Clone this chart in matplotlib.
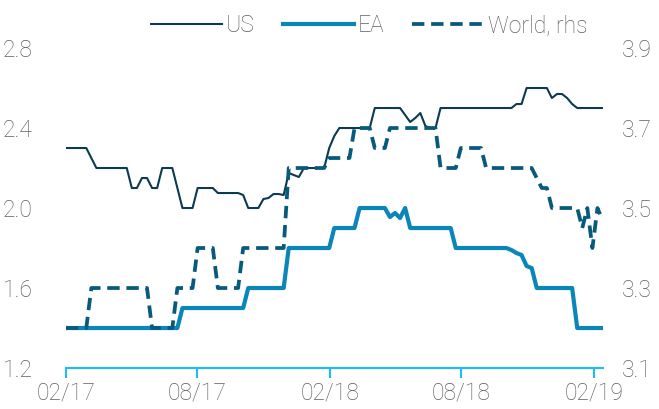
import pandas as pd
import matplotlib.pyplot as plt
import matplotlib.dates as mdates

# weekly observations, Feb 2017 - Feb 2019
dates = pd.date_range("2017-02-01", periods=107, freq="7D")

us = [2.30, 2.30, 2.30, 2.30, 2.30, 2.25, 2.20, 2.20, 2.20, 2.20,
      2.20, 2.20, 2.20, 2.10, 2.10, 2.15, 2.15, 2.10, 2.10, 2.20,
      2.20, 2.20, 2.10, 2.00, 2.00, 2.00, 2.10, 2.10, 2.10, 2.10,
      2.075, 2.075, 2.075, 2.075, 2.075, 2.065, 2.00, 2.00, 2.00, 2.045,
      2.05, 2.07, 2.07, 2.065, 2.175, 2.165, 2.155, 2.20, 2.20, 2.20,
      2.20, 2.20, 2.30, 2.36, 2.40, 2.40, 2.40, 2.40, 2.40, 2.40,
      2.40, 2.50, 2.50, 2.50, 2.50, 2.50, 2.50, 2.465, 2.43, 2.45,
      2.475, 2.41, 2.40, 2.40, 2.50, 2.50, 2.50, 2.50, 2.50, 2.50,
      2.50, 2.50, 2.50, 2.50, 2.50, 2.50, 2.50, 2.50, 2.50, 2.52,
      2.52, 2.60, 2.60, 2.60, 2.60, 2.60, 2.55, 2.57, 2.57, 2.55,
      2.52, 2.50, 2.50, 2.50, 2.50, 2.50, 2.50]

ea = [1.4, 1.4, 1.4, 1.4, 1.4, 1.4, 1.4, 1.4, 1.4, 1.4,
      1.4, 1.4, 1.4, 1.4, 1.4, 1.4, 1.4, 1.4, 1.4, 1.4,
      1.4, 1.4, 1.4, 1.5, 1.5, 1.5, 1.5, 1.5, 1.5, 1.5,
      1.5, 1.5, 1.5, 1.5, 1.5, 1.5, 1.6, 1.6, 1.6, 1.6,
      1.6, 1.6, 1.6, 1.6, 1.8, 1.8, 1.8, 1.8, 1.8, 1.8,
      1.8, 1.8, 1.8, 1.9, 1.9, 1.9, 1.9, 1.9, 2.0, 2.0,
      2.0, 2.0, 2.0, 2.0, 1.955, 1.975, 1.95, 2.0, 1.9, 1.9,
      1.9, 1.9, 1.9, 1.9, 1.9, 1.9, 1.9, 1.8, 1.8, 1.8,
      1.8, 1.8, 1.8, 1.8, 1.8, 1.8, 1.8, 1.8, 1.79, 1.775,
      1.765, 1.71, 1.70, 1.6, 1.6, 1.6, 1.6, 1.6, 1.6, 1.6,
      1.6, 1.4, 1.4, 1.4, 1.4, 1.4, 1.4]

world = [3.2, 3.2, 3.2, 3.2, 3.2, 3.3, 3.3, 3.3, 3.3, 3.3,
         3.3, 3.3, 3.3, 3.3, 3.3, 3.3, 3.3, 3.2, 3.2, 3.2,
         3.2, 3.2, 3.3, 3.3, 3.3, 3.3, 3.4, 3.4, 3.4, 3.4,
         3.3, 3.3, 3.3, 3.3, 3.3, 3.4, 3.4, 3.4, 3.4, 3.4,
         3.4, 3.4, 3.4, 3.4, 3.6, 3.6, 3.6, 3.6, 3.6, 3.6,
         3.6, 3.6, 3.625, 3.625, 3.625, 3.625, 3.625, 3.7, 3.7, 3.7,
         3.7, 3.65, 3.65, 3.65, 3.7, 3.7, 3.7, 3.7, 3.7, 3.7,
         3.7, 3.7, 3.7, 3.7, 3.6, 3.6, 3.6, 3.6, 3.65, 3.65,
         3.65, 3.65, 3.65, 3.6, 3.6, 3.6, 3.6, 3.6, 3.6, 3.6,
         3.6, 3.6, 3.6, 3.575, 3.55, 3.55, 3.5, 3.5, 3.5, 3.5,
         3.5, 3.5, 3.45, 3.5, 3.4, 3.5, 3.47]

left_ticks = [1.2, 1.6, 2.0, 2.4, 2.8]
right_ticks = [3.1, 3.3, 3.5, 3.7, 3.9]
x_ticks = ["2017-02-01", "2017-08-01", "2018-02-01", "2018-08-01", "2019-02-01"]

plt.rcParams["font.family"] = ["Roboto", "DejaVu Sans"]
plt.rcParams["font.weight"] = "light"
txt = "#5e5e5e"
axis_col = "#1ebef0"

fig = plt.figure(figsize=(6.59, 4.09), dpi=100)
ax = fig.add_axes([0.1002, 0.1002, 0.8141, 0.7824])
ax2 = ax.twinx()

l1, = ax.plot(dates, us, color="#0c3a50", lw=1.5, label="US")
l2, = ax.plot(dates, ea, color="#0a86b8", lw=3.0, label="EA")
l3, = ax2.plot(dates, world, color="#075a7c", lw=2.7, dashes=(3.3, 1.8), label="World, rhs")

ax.set_xlim(dates[0], dates[-1])
ax.set_ylim(1.2, 2.8)
ax2.set_ylim(3.1, 3.9)
ax.set_yticks(left_ticks)
ax.set_yticklabels([f"{v:.1f}" for v in left_ticks])
ax2.set_yticks(right_ticks)
ax2.set_yticklabels([f"{v:.1f}" for v in right_ticks])
ax.set_xticks(pd.to_datetime(x_ticks))
ax.xaxis.set_major_formatter(mdates.DateFormatter("%m/%y"))

for a in (ax, ax2):
    for s in ("top", "left", "right", "bottom"):
        a.spines[s].set_visible(False)
ax.spines["bottom"].set_visible(True)
ax.spines["bottom"].set_color(axis_col)
ax.spines["bottom"].set_linewidth(1.5)

ax.tick_params(axis="x", colors=axis_col, length=7, width=1.5, labelcolor=txt, labelsize=16.5, pad=3)
ax.tick_params(axis="y", length=0, labelcolor=txt, labelsize=16.5, pad=24)
ax2.tick_params(axis="y", length=0, labelcolor=txt, labelsize=16.5, pad=14)

fig.legend(handles=[l1, l2, l3], loc="center", bbox_to_anchor=(0.56, 0.937), ncol=3,
           frameon=False, fontsize=16.5, handlelength=3.1, handletextpad=0.2,
           columnspacing=1.2, labelcolor=txt, borderaxespad=0)

fig.savefig("out.png", dpi=100)
